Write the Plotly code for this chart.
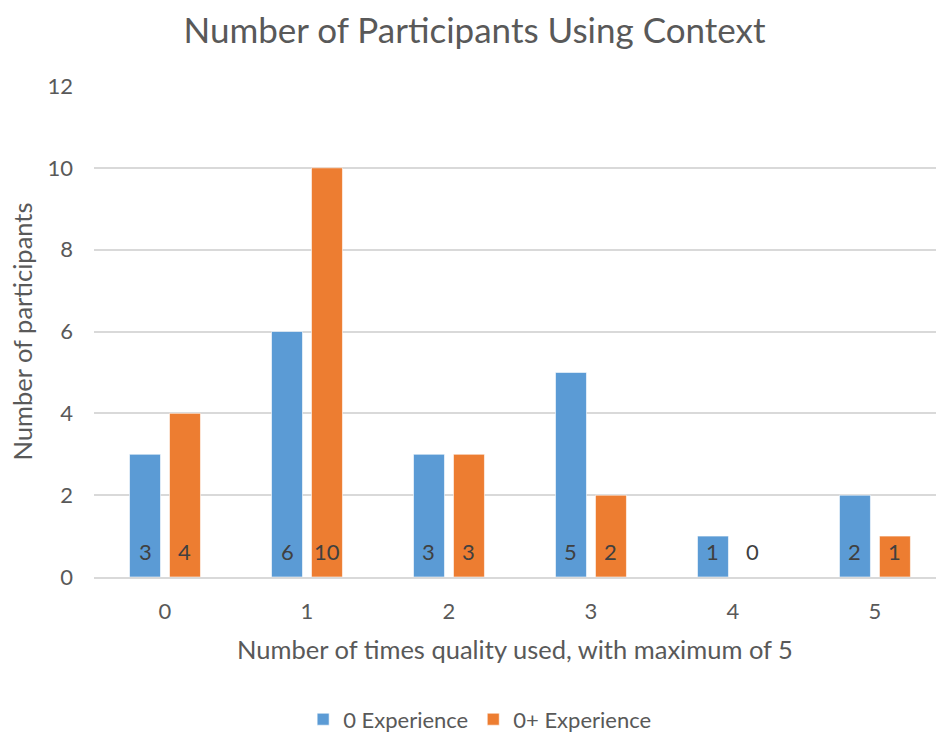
import plotly.graph_objects as go

# Data
categories = [0, 1, 2, 3, 4, 5]
zero_experience = [3, 6, 3, 5, 1, 2]
plus_experience = [4, 10, 3, 2, 0, 1]
series_names = ["0 Experience", "0+ Experience"]
y_ticks = [0, 2, 4, 6, 8, 10, 12]

BLUE = "#5B9BD5"
ORANGE = "#ED7D31"
TEXT = "#595959"
FONT = "Lato, Open Sans, sans-serif"

BARGAP = 0.437
GROUPGAP = 0.225
slot = (1 - BARGAP) / 2  # width of one series slot in category units

fig = go.Figure()
for name, vals, color in [(series_names[0], zero_experience, BLUE),
                          (series_names[1], plus_experience, ORANGE)]:
    fig.add_trace(go.Bar(
        x=categories, y=vals, name=name,
        marker=dict(color=color, line=dict(color="rgba(255,255,255,0.6)", width=1)),
    ))

# value labels sitting at the base of each bar
for offset, vals in [(-slot / 2, zero_experience), (slot / 2, plus_experience)]:
    for c, v in zip(categories, vals):
        fig.add_annotation(
            x=c + offset, y=0, text=str(v), showarrow=False,
            yanchor="bottom", yshift=10,
            font=dict(family=FONT, size=22, color="#404040"),
        )

fig.update_layout(
    width=936, height=732,
    margin=dict(l=94, r=0, t=86, b=155, autoexpand=False),
    paper_bgcolor="white", plot_bgcolor="white",
    barmode="group", bargap=BARGAP, bargroupgap=GROUPGAP,
    font=dict(family=FONT, color=TEXT),
    title=dict(
        text="Number of Participants Using Context",
        x=0.507, xanchor="center", y=0.958, yanchor="middle",
        font=dict(family=FONT, size=35, color=TEXT),
    ),
    showlegend=True,
    legend=dict(
        orientation="h", x=0.458, xanchor="center", y=-0.29, yanchor="middle",
        font=dict(family=FONT, size=22, color=TEXT),
        itemwidth=30, traceorder="normal",
    ),
    xaxis=dict(
        range=[-0.5, 5.43], tickmode="array", tickvals=categories,
        ticktext=[str(c) for c in categories],
        showgrid=False, showline=True, linecolor="#D9D9D9", linewidth=2,
        ticks="", zeroline=False, ticklabelstandoff=14, automargin=False,
        tickfont=dict(family=FONT, size=22, color=TEXT),
        title=dict(text="Number of times quality used, with maximum of 5",
                   font=dict(family=FONT, size=25.5, color=TEXT), standoff=18),
    ),
    yaxis=dict(
        range=[0, 12], tickmode="array", tickvals=y_ticks,
        showgrid=True, gridcolor="#D9D9D9", gridwidth=2,
        zeroline=False, showline=False, ticks="", automargin=True,
        ticklabelstandoff=20,
        tickfont=dict(family=FONT, size=22, color=TEXT),
        title=dict(text="Number of participants",
                   font=dict(family=FONT, size=25.5, color=TEXT), standoff=7),
    ),
)

fig.write_html("out.html")
